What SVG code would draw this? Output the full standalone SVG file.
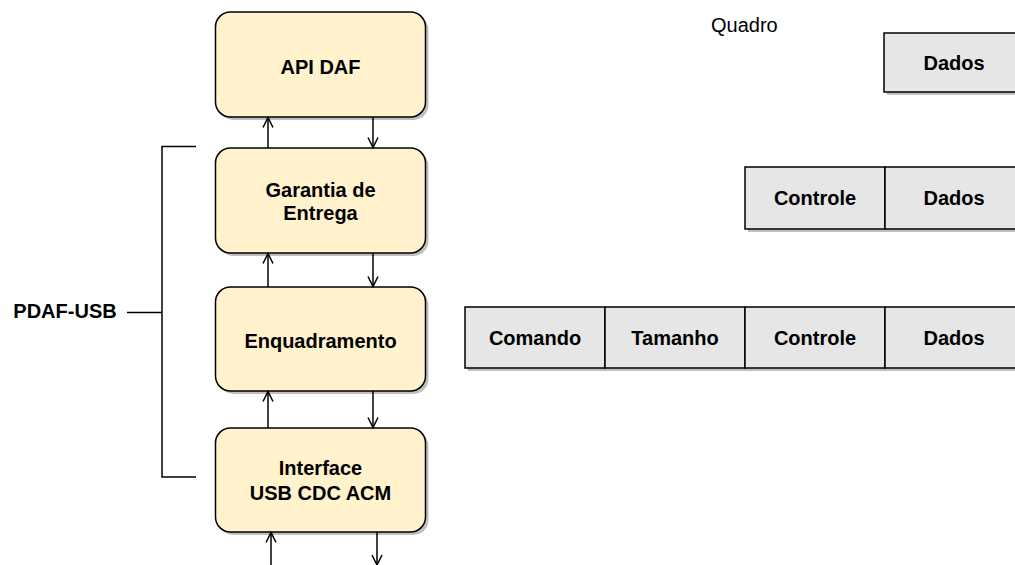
<svg xmlns="http://www.w3.org/2000/svg" width="1015" height="565" viewBox="0 0 1015 565">
<defs>
<marker id="ah" markerWidth="14" markerHeight="14" refX="11" refY="6" orient="auto" markerUnits="userSpaceOnUse">
<path d="M1,1 L11,6 L1,11" fill="none" stroke="#000" stroke-width="1.5"/>
</marker>
</defs>
<style>
.box{fill:#fff2cc;stroke:#000;stroke-width:1.5}
.sh{fill:#000;opacity:0.25}
.cell{fill:#e6e6e6;stroke:#000;stroke-width:1.5}
.t{font-family:"Liberation Sans",Arial,sans-serif;font-size:20px;font-weight:bold;text-anchor:middle;fill:#000}
.n{font-family:"Liberation Sans",Arial,sans-serif;font-size:20px;fill:#000}
.ln{fill:none;stroke:#000;stroke-width:1.5}
.ar{fill:none;stroke:#000;stroke-width:1.5;marker-end:url(#ah)}
</style>
<rect width="1015" height="565" fill="#fff"/>

<g id="api-daf">
<rect class="sh" x="218.5" y="15" width="210" height="105" rx="15"/>
<rect class="box" x="215.5" y="12" width="210" height="105" rx="15"/>
<text class="t" x="320.5" y="74">API DAF</text>
</g>
<g id="garantia">
<rect class="sh" x="218.5" y="151" width="210" height="105" rx="15"/>
<rect class="box" x="215.5" y="148" width="210" height="105" rx="15"/>
<text class="t" x="320.5" y="197">Garantia de</text>
<text class="t" x="320.5" y="220">Entrega</text>
</g>
<g id="enquadramento">
<rect class="sh" x="218.5" y="290" width="210" height="104" rx="15"/>
<rect class="box" x="215.5" y="287" width="210" height="104" rx="15"/>
<text class="t" x="320.5" y="348">Enquadramento</text>
</g>
<g id="interface">
<rect class="sh" x="218.5" y="431" width="210" height="104" rx="15"/>
<rect class="box" x="215.5" y="428" width="210" height="104" rx="15"/>
<text class="t" x="320.5" y="475">Interface</text>
<text class="t" x="320.5" y="500">USB CDC ACM</text>
</g>

<g id="pdaf-usb">
<text class="t" x="65" y="318">PDAF-USB</text>
</g>

<g id="quadro">
<text class="n" x="711" y="32">Quadro</text>
</g>

<g id="frame1">
<rect class="sh" x="887" y="36" width="141" height="59"/>
<rect class="cell" x="884" y="33" width="141" height="59"/>
<text class="t" x="954" y="70">Dados</text>
</g>

<g id="frame2">
<rect class="sh" x="748" y="170" width="280" height="62"/>
<rect class="cell" x="745" y="167" width="140" height="62"/>
<rect class="cell" x="885" y="167" width="140" height="62"/>
<text class="t" x="815" y="205">Controle</text>
<text class="t" x="954" y="205">Dados</text>
</g>

<g id="frame3">
<rect class="sh" x="468" y="310" width="560" height="61"/>
<rect class="cell" x="465" y="307" width="140" height="61"/>
<rect class="cell" x="605" y="307" width="140" height="61"/>
<rect class="cell" x="745" y="307" width="140" height="61"/>
<rect class="cell" x="885" y="307" width="140" height="61"/>
<text class="t" x="535" y="345">Comando</text>
<text class="t" x="675" y="345">Tamanho</text>
<text class="t" x="815" y="345">Controle</text>
<text class="t" x="954" y="345">Dados</text>
</g>

<g id="connectors">
<path class="ln" d="M196,146.5 H162 V477 H196"/>
<path class="ln" d="M127,312.5 H162"/>
<path class="ar" d="M268,148 V117.5"/>
<path class="ar" d="M373,117 V147.5"/>
<path class="ar" d="M268,287 V253.5"/>
<path class="ar" d="M373,253 V286.5"/>
<path class="ar" d="M268,428 V391.5"/>
<path class="ar" d="M373,391 V427.5"/>
<path class="ar" d="M271,565 V532.5"/>
<path class="ar" d="M377,532 V565"/>
</g>
</svg>
